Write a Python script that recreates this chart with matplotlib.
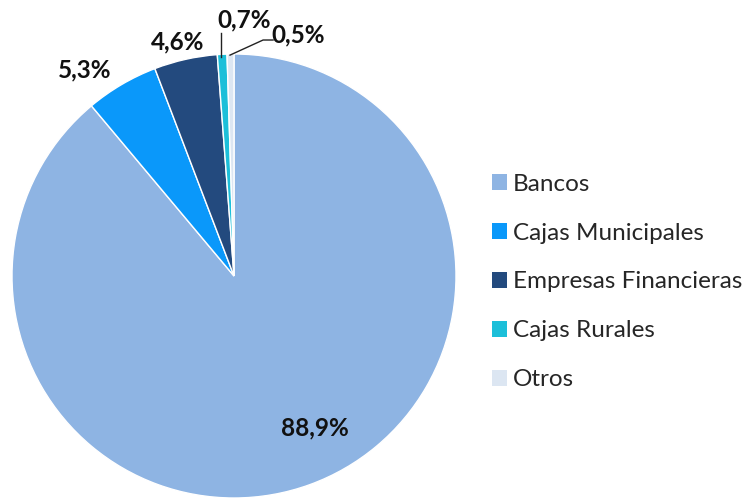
import matplotlib.pyplot as plt
from matplotlib.patches import Patch

# === Data ===
categories = ['Bancos', 'Cajas Municipales', 'Empresas Financieras', 'Cajas Rurales', 'Otros']
shares = [88.9, 5.3, 4.6, 0.7, 0.5]
labels = ['88,9%', '5,3%', '4,6%', '0,7%', '0,5%']
colors = ['#8EB4E3', '#0A98FA', '#234A7E', '#1CBFD9', '#DCE6F2']

plt.rcParams['font.family'] = ['Lato', 'DejaVu Sans']

fig = plt.figure(figsize=(7.51, 4.99), dpi=100)
ax = fig.add_axes([12 / 751, 1 / 499, 444 / 751, 444 / 499])

wedges, _ = ax.pie(shares, colors=colors, startangle=90, counterclock=False,
                   radius=1, wedgeprops=dict(edgecolor='white', linewidth=1))
ax.set_xlim(-1, 1)
ax.set_ylim(-1, 1)
ax.set_aspect('equal')
ax.axis('off')

# label positions (data coords)
label_pos = [(0.365, -0.685), (-0.671, 0.928), (-0.252, 1.054), (0.045, 1.155), (0.29, 1.088)]
for txt, (x, y) in zip(labels, label_pos):
    ax.text(x, y, txt, ha='center', va='center', fontsize=17.5, fontweight='bold',
            color='#111111', clip_on=False)

# leader lines for small slices
ax.plot([-0.059, -0.059], [0.985, 1.095], color='#222222', lw=1, clip_on=False)
ax.plot([-0.018, 0.131, 0.176], [0.995, 1.063, 1.063], color='#222222', lw=1, clip_on=False)

handles = [Patch(facecolor=c, edgecolor='none') for c in colors]
fig.legend(handles, categories, loc='center left', bbox_to_anchor=(492 / 751, 1 - 282 / 499),
           frameon=False, fontsize=17.5, handlelength=0.6, handleheight=0.6,
           handletextpad=0.25, labelspacing=1.15, borderpad=0, borderaxespad=0,
           labelcolor='#262626')

fig.savefig('out.png', dpi=100)
